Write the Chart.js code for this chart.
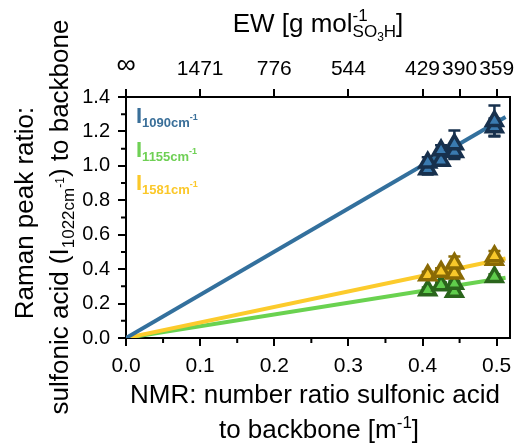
<!DOCTYPE html>
<html><head><meta charset="utf-8">
<script src="https://cdn.jsdelivr.net/npm/chart.js@4/dist/chart.umd.min.js"></script>
<style>html,body{margin:0;padding:0;background:#fff}</style>
</head><body>
<canvas id="c" width="515" height="444"></canvas>
<script>
// ---- data ----
const blueX   = [0.407, 0.407, 0.425, 0.425, 0.443, 0.443, 0.497, 0.497];
const blueY   = [0.98, 1.02, 1.03, 1.09, 1.08, 1.125, 1.225, 1.26];
const blueErr = [0.03, 0.03, 0.03, 0.03, 0.04, 0.08, 0.05, 0.09];

const greenX   = [0.407, 0.425, 0.443, 0.443, 0.497];
const greenY   = [0.278, 0.307, 0.268, 0.315, 0.355];
const greenErr = [0.015, 0.015, 0.015, 0.015, 0.015];

const yellowX   = [0.407, 0.425, 0.443, 0.443, 0.497, 0.497];
const yellowY   = [0.365, 0.385, 0.375, 0.433, 0.455, 0.475];
const yellowErr = [0.02, 0.02, 0.02, 0.04, 0.02, 0.03];

// linear fits (through origin), end points
const fitX      = [0, 0.512];
const blueFitY  = [0, 1.284];
const greenFitY = [0, 0.350];
const yellowFitY= [0, 0.462];

const xTickVals = [0, 0.1, 0.2, 0.3, 0.4, 0.5];
const xMinorVals = [0.05, 0.15, 0.25, 0.35, 0.45];
const yTickVals = [0, 0.2, 0.4, 0.6, 0.8, 1.0, 1.2, 1.4];
const yMinorVals = [0.1, 0.3, 0.5, 0.7, 0.9, 1.1, 1.3];
const ewPos    = [0, 0.1, 0.2, 0.3, 0.4, 0.45, 0.5];
const ewLabels = ['∞', '1471', '776', '544', '429', '390', '359'];

const legendItems = [
  {sub:'1090cm', color:'#3a6f99'},
  {sub:'1155cm', color:'#6fd055'},
  {sub:'1581cm', color:'#fbc82a'}
];

const FF = '"Liberation Sans", Arial, sans-serif';

function pts(xs, ys){ return xs.map((x,i)=>({x:x, y:ys[i]})); }

function drawRich(ctx, parts, x, y, align){
  let w = 0;
  parts.forEach(p=>{ ctx.font = p.f; const m = ctx.measureText(p.t).width; if(p.adv!==false) w += m; });
  let cx = align==='center' ? x - w/2 : x;
  ctx.textAlign = 'left';
  parts.forEach(p=>{
    ctx.font = p.f;
    ctx.fillText(p.t, cx, y + (p.dy||0));
    if(p.adv!==false) cx += ctx.measureText(p.t).width;
  });
}

const decor = {
  id:'decor',
  beforeDatasetsDraw(chart){
    const ctx = chart.ctx, xs = chart.scales.x, ys = chart.scales.y;
    ctx.save();
    chart.data.datasets.forEach(ds=>{
      if(!ds.errs) return;
      ctx.strokeStyle = ds.errColor; ctx.lineWidth = 2.5;
      ds.data.forEach((p,i)=>{
        const e = ds.errs[i];
        const px = xs.getPixelForValue(p.x);
        const y1 = ys.getPixelForValue(p.y + e), y2 = ys.getPixelForValue(p.y - e);
        ctx.beginPath();
        ctx.moveTo(px, y1); ctx.lineTo(px, y2);
        ctx.moveTo(px-6, y1); ctx.lineTo(px+6, y1);
        ctx.moveTo(px-6, y2); ctx.lineTo(px+6, y2);
        ctx.stroke();
      });
    });
    ctx.restore();
  },
  afterDraw(chart){
    const ctx = chart.ctx, a = chart.chartArea;
    const xs = chart.scales.x, ys = chart.scales.y;
    ctx.save();
    ctx.strokeStyle = '#000'; ctx.lineWidth = 2;
    // right border
    ctx.beginPath(); ctx.moveTo(a.right, a.top-1); ctx.lineTo(a.right, a.bottom+1); ctx.stroke();
    // minor ticks
    ctx.beginPath();
    xMinorVals.forEach(v=>{ const px = xs.getPixelForValue(v); ctx.moveTo(px, a.bottom); ctx.lineTo(px, a.bottom+5); });
    yMinorVals.forEach(v=>{ const py = ys.getPixelForValue(v); ctx.moveTo(a.left, py); ctx.lineTo(a.left-5, py); });
    ctx.stroke();

    ctx.fillStyle = '#000';
    ctx.textBaseline = 'alphabetic';
    // top title
    drawRich(ctx, [
      {t:'EW [g mol', f:'26px '+FF},
      {t:'-1', f:'17px '+FF, dy:-11, adv:false},
      {t:'SO', f:'17px '+FF, dy:5},
      {t:'3', f:'12px '+FF, dy:9},
      {t:'H', f:'17px '+FF, dy:5},
      {t:']', f:'26px '+FF}
    ], 318, 32, 'center');
    // x title
    drawRich(ctx, [{t:'NMR: number ratio sulfonic acid', f:'26px '+FF}], 315, 403, 'center');
    drawRich(ctx, [
      {t:'to backbone [m', f:'26px '+FF},
      {t:'-1', f:'17px '+FF, dy:-10},
      {t:']', f:'26px '+FF}
    ], 319, 438, 'center');
    // y title (rotated)
    ctx.save();
    ctx.translate(33, 213); ctx.rotate(-Math.PI/2);
    drawRich(ctx, [{t:'Raman peak ratio:', f:'26px '+FF}], 0, 0, 'center');
    ctx.restore();
    ctx.save();
    ctx.translate(68, 217); ctx.rotate(-Math.PI/2);
    drawRich(ctx, [
      {t:'sulfonic acid (I', f:'26px '+FF},
      {t:'1022cm', f:'17px '+FF, dy:6},
      {t:'-1', f:'12px '+FF, dy:-4},
      {t:') to backbone', f:'26px '+FF}
    ], 0, 0, 'center');
    ctx.restore();
    // legend
    const baseY = [123, 157, 190];
    legendItems.forEach((it,i)=>{
      ctx.fillStyle = it.color;
      drawRich(ctx, [
        {t:'I', f:'bold 22px '+FF},
        {t:it.sub, f:'bold 13px '+FF, dy:4},
        {t:'-1', f:'bold 9px '+FF, dy:-3}
      ], 136, baseY[i], 'left');
    });
    ctx.restore();
  }
};

function noPad(s){ s.paddingLeft = 0; s.paddingRight = 0; }

new Chart(document.getElementById('c'), {
  type: 'scatter',
  data: {
    datasets: [
      {label:'blue', data:pts(blueX, blueY), errs:blueErr, errColor:'#17304d', order:1,
       pointStyle:'triangle', pointRadius:9, backgroundColor:'#3a7ab0', borderColor:'#17304d', borderWidth:3.5},
      {label:'yellow', data:pts(yellowX, yellowY), errs:yellowErr, errColor:'#8a6a05', order:2,
       pointStyle:'triangle', pointRadius:9, backgroundColor:'#f8c82a', borderColor:'#8a6a05', borderWidth:3.5},
      {label:'green', data:pts(greenX, greenY), errs:greenErr, errColor:'#2a651c', order:3,
       pointStyle:'triangle', pointRadius:9, backgroundColor:'#5fcd4c', borderColor:'#2a651c', borderWidth:3.5},
      {type:'line', label:'blueFit', data:pts(fitX, blueFitY), borderColor:'#33709d', borderWidth:4, pointRadius:0, order:10, fill:false},
      {type:'line', label:'yellowFit', data:pts(fitX, yellowFitY), borderColor:'#fccb2c', borderWidth:4, pointRadius:0, order:11, fill:false},
      {type:'line', label:'greenFit', data:pts(fitX, greenFitY), borderColor:'#6ad250', borderWidth:4, pointRadius:0, order:12, fill:false}
    ]
  },
  options: {
    responsive:false, animation:false, devicePixelRatio:1,
    layout:{autoPadding:false, padding:{left:0, right:5, top:0, bottom:0}},
    plugins:{legend:{display:false}, tooltip:{enabled:false}},
    scales:{
      x:{type:'linear', position:'bottom', min:0, max:0.518,
         afterBuildTicks(s){ s.ticks = xTickVals.map(v=>({value:v})); },
         afterFit(s){ s.height = 106; noPad(s); },
         ticks:{font:{family:FF, size:21}, color:'#000', padding:8, maxRotation:0, autoSkip:false, callback:v=>v.toFixed(1)},
         grid:{drawOnChartArea:false, drawTicks:true, tickLength:8, tickColor:'#000', tickWidth:2, lineWidth:2},
         border:{display:true, color:'#000', width:2}},
      x2:{type:'linear', position:'top', min:0, max:0.518,
         afterBuildTicks(s){ s.ticks = ewPos.map(v=>({value:v})); },
         afterFit(s){ s.height = 97; noPad(s); },
         ticks:{font:(c)=>({family:FF, size: c.index===0 ? 27 : 21}), color:'#000', padding:7, maxRotation:0, autoSkip:false,
                callback:(v,i)=>ewLabels[i]},
         grid:{drawOnChartArea:false, drawTicks:true, tickLength:8, tickColor:'#000', tickWidth:2, lineWidth:2},
         border:{display:true, color:'#000', width:2}},
      y:{type:'linear', position:'left', min:0, max:1.4,
         afterBuildTicks(s){ s.ticks = yTickVals.map(v=>({value:v})); },
         afterFit(s){ s.width = 126; s.paddingTop = 0; s.paddingBottom = 0; },
         ticks:{font:{family:FF, size:20}, color:'#000', padding:8, autoSkip:false, callback:v=>v.toFixed(1)},
         grid:{drawOnChartArea:false, drawTicks:true, tickLength:8, tickColor:'#000', tickWidth:2, lineWidth:2},
         border:{display:true, color:'#000', width:2}}
    }
  },
  plugins:[decor]
});
</script>
</body></html>
